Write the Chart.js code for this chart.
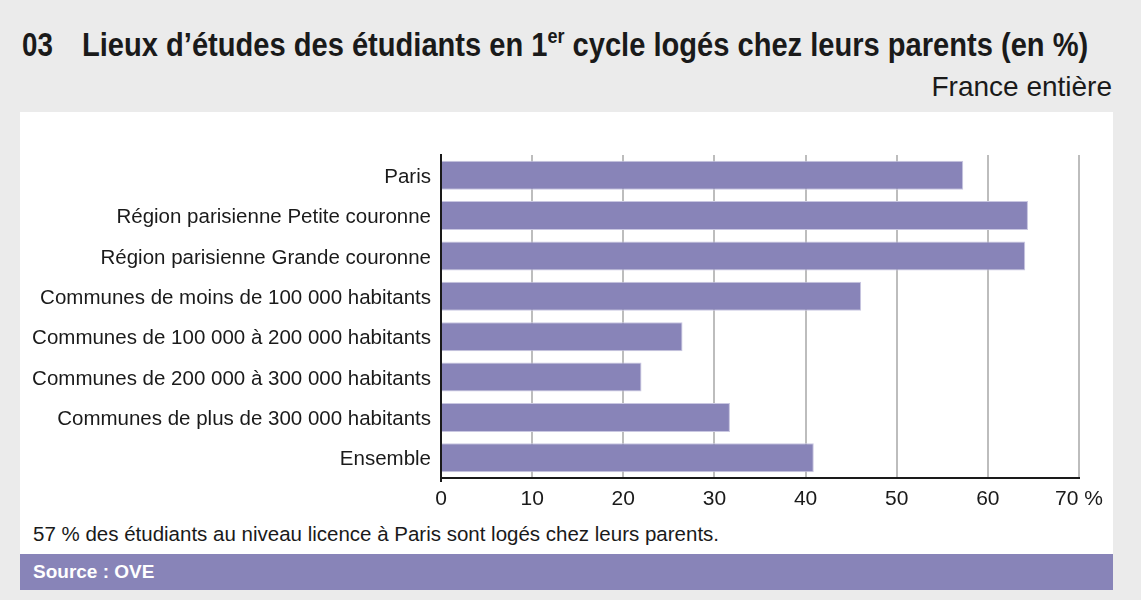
<!DOCTYPE html>
<html>
<head>
<meta charset="utf-8">
<script src="https://cdn.jsdelivr.net/npm/chart.js@4"></script>
<style>
  html, body { margin: 0; padding: 0; }
  body { width: 1141px; height: 600px; background: #ebebeb; position: relative; overflow: hidden;
         font-family: "Liberation Sans", Arial, sans-serif; color: #1a1a1a; }
  .t { position: absolute; top: 27px; font-size: 34px; line-height: 34px; font-weight: bold; white-space: nowrap; transform-origin: 0 0; }
  #num { left: 22px; }
  #title { left: 82px; }
  #title sup { font-size: 21px; line-height: 0; vertical-align: 0; position: relative; top: -13px; }
  #subtitle { position: absolute; right: 29px; top: 71px; font-size: 28px; white-space: nowrap; }
  #panel { position: absolute; left: 20px; top: 112px; width: 1093px; height: 442px; background: #fff; }
  #note { position: absolute; left: 33px; top: 522px; font-size: 20.5px; white-space: nowrap; }
  #source { position: absolute; left: 20px; top: 554px; width: 1093px; height: 36px; background: #8884b8; }
  #source span { position: absolute; left: 13px; top: 7px; font-size: 19px; font-weight: bold; color: #fff; }
  #wrap { position: absolute; left: 0; top: 0; width: 1141px; height: 600px; }
</style>
</head>
<body>
<div id="panel"></div>
<div id="num" class="t">03</div>
<div id="title" class="t">Lieux d’études des étudiants en 1<sup>er</sup> cycle logés chez leurs parents (en %)</div>
<div id="subtitle">France entière</div>
<div id="note">57 % des étudiants au niveau licence à Paris sont logés chez leurs parents.</div>
<div id="source"><span>Source : OVE</span></div>
<div id="wrap"><canvas id="c" width="1141" height="600"></canvas></div>
<script>
const categories = [
  "Paris",
  "Région parisienne Petite couronne",
  "Région parisienne Grande couronne",
  "Communes de moins de 100 000 habitants",
  "Communes de 100 000 à 200 000 habitants",
  "Communes de 200 000 à 300 000 habitants",
  "Communes de plus de 300 000 habitants",
  "Ensemble"
];
const values = [57.3, 64.4, 64.1, 46.1, 26.5, 22.0, 31.7, 40.9];
const xTicks = [0, 10, 20, 30, 40, 50, 60, 70];
const xUnit = " %";

// condense the title horizontally to the reference's width
(function () {
  const n = document.getElementById('num');
  n.style.transform = 'scaleX(' + (31 / n.scrollWidth) + ')';
  const t = document.getElementById('title');
  t.style.transform = 'scaleX(' + (1006 / t.scrollWidth) + ')';
})();

const FONT = "'Liberation Sans', Arial, sans-serif";

new Chart(document.getElementById('c'), {
  type: 'bar',
  data: {
    labels: categories,
    datasets: [{
      data: values,
      backgroundColor: '#8884b8',
      borderColor: '#c9c7e1',
      borderWidth: 1,
      borderSkipped: 'start',
      barPercentage: 0.72,
      categoryPercentage: 1.0
    }]
  },
  options: {
    indexAxis: 'y',
    responsive: false,
    animation: false,
    devicePixelRatio: 1,
    layout: { padding: { left: 0, right: 62, top: 155, bottom: 92 } },
    plugins: { legend: { display: false }, tooltip: { enabled: false } },
    scales: {
      x: {
        min: 0, max: 70,
        afterBuildTicks: (s) => { s.ticks = xTicks.map(v => ({ value: v })); },
        afterFit: (s) => { s.height = 30; },
        grid: {
          color: (ctx) => ctx.tick && ctx.tick.value === 0 ? 'rgba(0,0,0,0)' : '#bdbdbd',
          tickColor: (ctx) => ctx.tick && ctx.tick.value === 0 ? '#1a1a1a' : 'rgba(0,0,0,0)',
          lineWidth: 2,
          drawTicks: true,
          tickLength: 4
        },
        border: { display: true, color: '#1a1a1a', width: 2 },
        ticks: {
          color: '#1a1a1a',
          padding: 5,
          font: { family: FONT, size: 21 },
          maxRotation: 0,
          callback: (v) => v === 70 ? v + xUnit : String(v)
        }
      },
      y: {
        afterFit: (s) => { s.width = 441; },
        grid: { display: false, drawTicks: false },
        border: { display: true, color: '#1a1a1a', width: 2 },
        ticks: {
          color: '#1a1a1a',
          padding: 10,
          labelOffset: 2,
          font: { family: FONT, size: 20.5 }
        }
      }
    }
  }
});
</script>
</body>
</html>
